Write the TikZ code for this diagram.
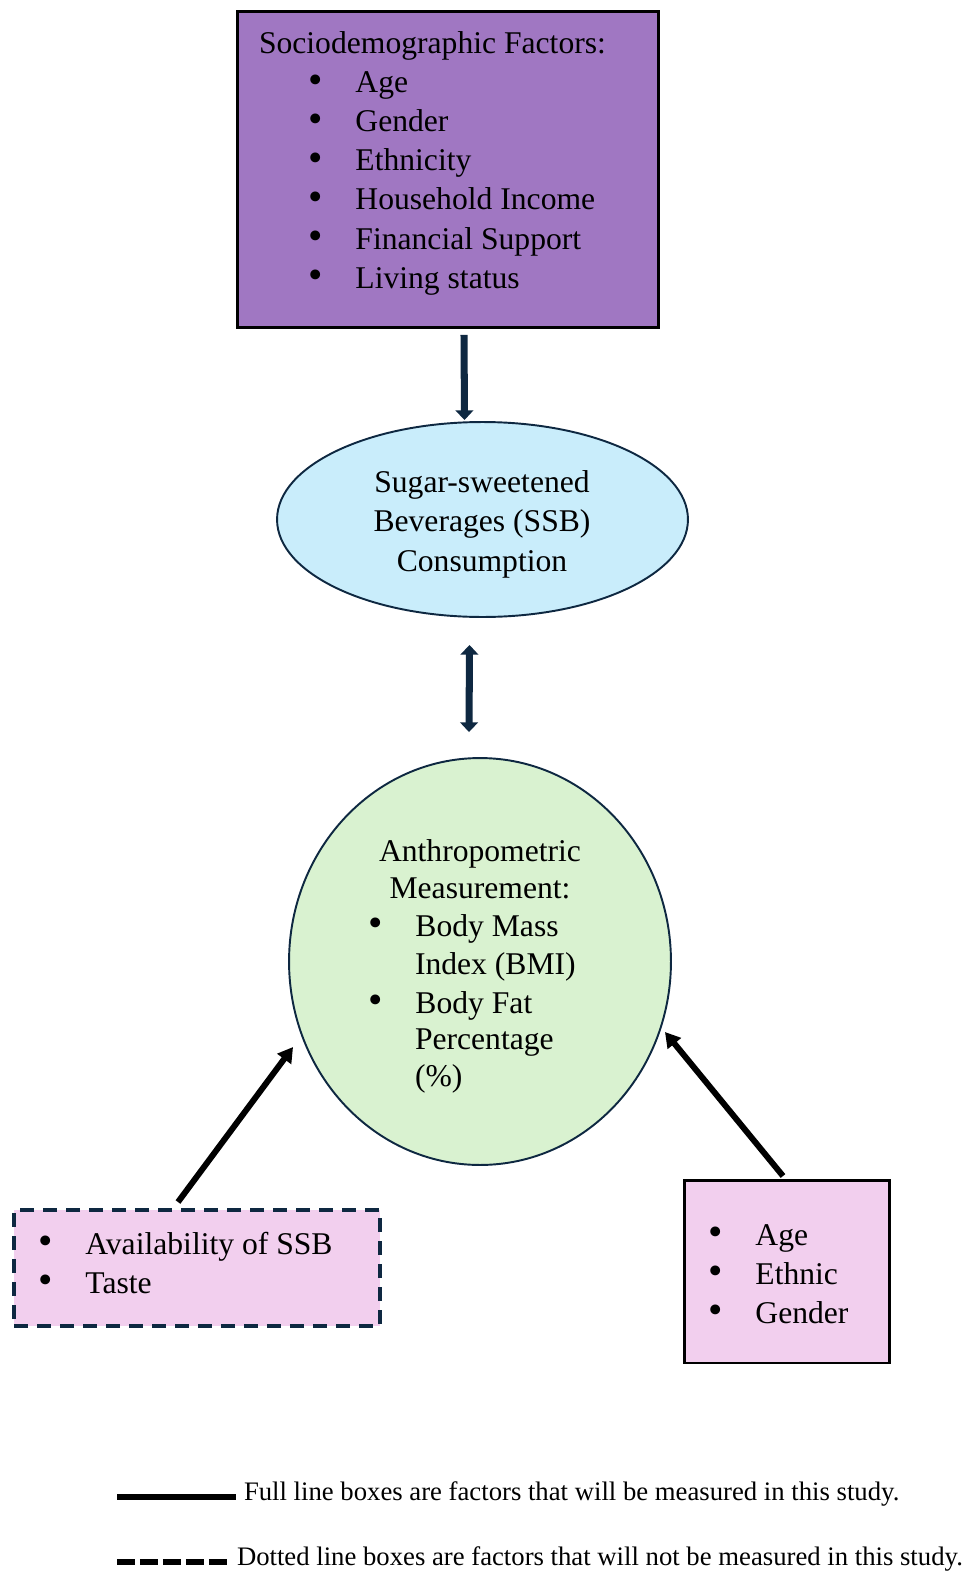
\documentclass[tikz,border=0pt]{standalone}
\usepackage{fontspec}
\setmainfont{Liberation Serif}
\usepackage{xcolor}
\usepackage{tikz}
\usetikzlibrary{arrows.meta, positioning, shapes.geometric, calc}

\definecolor{socpurple}{HTML}{A077C2}
\definecolor{ssbblue}{HTML}{C9EDFB}
\definecolor{anthgreen}{HTML}{D9F2D0}
\definecolor{boxpink}{HTML}{F2CFEE}
\definecolor{edgenavy}{HTML}{0E2841}

\newcommand{\bul}[1]{\makebox[27pt][l]{\raisebox{-0.3pt}{\scalebox{1.3}{\textbullet}}}#1}

\begin{document}
\begin{tikzpicture}[x=0.02cm, y=-0.02cm,
	txt/.style={inner sep=0pt, outer sep=0pt, font=\fontsize{18}{22}\selectfont},
	keytxt/.style={inner sep=0pt, outer sep=0pt, font=\fontsize{15.2}{18}\selectfont},
	solidbox/.style={draw=black, line width=1.7pt, inner sep=0pt, outer sep=0pt},
	dashbox/.style={draw=edgenavy, line width=1.9pt, dash pattern=on 0.28cm off 0.18cm, inner sep=0pt, outer sep=0pt},
	oval/.style={ellipse, draw=edgenavy, line width=1.1pt, inner sep=0pt, outer sep=0pt},
	vert/.style={draw=edgenavy, line width=4pt, -{Triangle[length=5.5pt, width=10pt]}},
	twoway/.style={draw=edgenavy, line width=4pt, {Triangle[length=5.5pt, width=10pt]}-{Triangle[length=5.5pt, width=10pt]}},
	diag/.style={draw=black, line width=3.4pt, -{Triangle[length=8.5pt, width=9.5pt]}},
	keysolid/.style={line width=3.4pt},
	keydash/.style={line width=3.4pt, dash pattern=on 0.36cm off 0.1cm}]
	\useasboundingbox (0,0) rectangle (963,1571);
	% Boxes, ovals and their texts:
	\node[solidbox, fill=socpurple, minimum width=8.44cm, minimum height=6.34cm] (soc) at (448,169.5) {};
	\node[txt, anchor=base west] (soc0) at (259,54) {Sociodemographic Factors:};
	\node[txt, anchor=base west] (soc1) at (308,93) {\bul{Age}};
	\node[txt, anchor=base west] (soc2) at (308,132) {\bul{Gender}};
	\node[txt, anchor=base west] (soc3) at (308,171) {\bul{Ethnicity}};
	\node[txt, anchor=base west] (soc4) at (308,210) {\bul{Household Income}};
	\node[txt, anchor=base west] (soc5) at (308,249) {\bul{Financial Support}};
	\node[txt, anchor=base west] (soc6) at (308,288) {\bul{Living status}};
	\node[oval, fill=ssbblue, minimum width=8.22cm, minimum height=3.9cm] (ssb) at (482.5,519.5) {};
	\node[txt, anchor=base] (ssb1) at (482,492) {Sugar-sweetened};
	\node[txt, anchor=base] (ssb2) at (482,531) {Beverages (SSB)};
	\node[txt, anchor=base] (ssb3) at (482,571) {Consumption};
	\node[oval, fill=anthgreen, minimum width=7.64cm, minimum height=8.14cm] (anth) at (480,961.5) {};
	\node[txt, anchor=base] (anth1) at (480,861) {Anthropometric};
	\node[txt, anchor=base] (anth2) at (480,898) {Measurement:};
	\node[txt, anchor=base west] (anth3) at (368,936) {\bul{Body Mass}};
	\node[txt, anchor=base west] (anth4) at (415,974) {Index (BMI)};
	\node[txt, anchor=base west] (anth5) at (368,1013) {\bul{Body Fat}};
	\node[txt, anchor=base west] (anth6) at (415,1049) {Percentage};
	\node[txt, anchor=base west] (anth7) at (415,1086) {(\%)};
	\node[dashbox, fill=boxpink, minimum width=7.32cm, minimum height=2.32cm] (avail) at (197,1268) {};
	\node[txt, anchor=base west] (avail1) at (38,1254) {\bul{Availability of SSB}};
	\node[txt, anchor=base west] (avail2) at (38,1293) {\bul{Taste}};
	\node[solidbox, fill=boxpink, minimum width=4.12cm, minimum height=3.66cm] (demo) at (787,1271.5) {};
	\node[txt, anchor=base west] (demo1) at (708,1245) {\bul{Age}};
	\node[txt, anchor=base west] (demo2) at (708,1284) {\bul{Ethnic}};
	\node[txt, anchor=base west] (demo3) at (708,1323) {\bul{Gender}};
	% Arrows:
	\draw[vert] ($(soc.south)+(16,7)$) -- ($(ssb.north)+(-18,-2)$);
	\draw[twoway] ($(ssb.south)+(-13,28)$) -- ($(anth.north)+(-11,-26)$);
	\draw[diag] ($(avail.north)+(-19,-8)$) -- ($(anth.west)+(4,85.5)$);
	\draw[diag] ($(demo.north)+(-4,-4)$) -- ($(anth.east)+(-6,70.5)$);
	% Key:
	\node[keytxt, anchor=base west] (fullkey) at (244,1500) {Full line boxes are factors that will be measured in this study.};
	\node[keytxt, anchor=base west] (dotkey) at (237,1565) {Dotted line boxes are factors that will not be measured in this study.};
	\coordinate (k1) at (117,1496.5);
	\coordinate (k2) at (117,1561.5);
	\draw[keysolid, shorten >=0.16cm] (k1) -- (k1 -| fullkey.west);
	\draw[keydash, shorten >=0.2cm] (k2) -- (k2 -| dotkey.west);
\end{tikzpicture}
\end{document}
